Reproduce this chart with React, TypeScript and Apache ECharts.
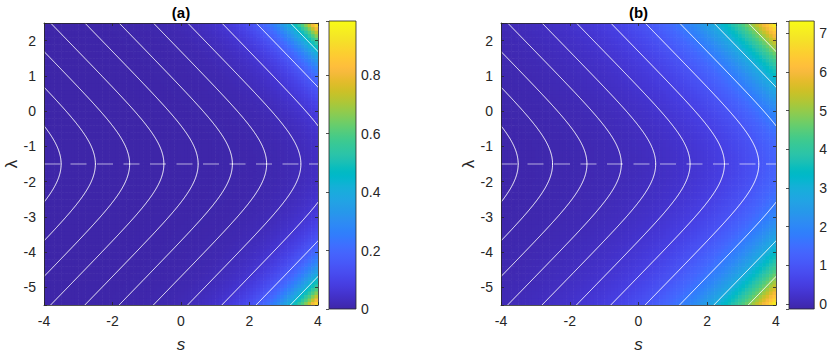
import React, { useEffect, useRef } from "react";
import * as echarts from "echarts";

// ---- axes / ticks ----
const S_RANGE = [-4, 4];
const LAMBDA_RANGE = [-5.5, 2.5];
const S_TICKS = [-4, -2, 0, 2, 4];
const LAMBDA_TICKS = [-5, -4, -3, -2, -1, 0, 1, 2];
const CB_A_TICKS = [0, 0.2, 0.4, 0.6, 0.8];
const CB_B_TICKS = [0, 1, 2, 3, 4, 5, 6, 7];
const CB_A_RANGE = [0, 0.986];
const CB_B_RANGE = [-0.13, 7.32];
const PANEL_TITLES = ["(a)", "(b)"];

// ---- field read-off ----
// dashed symmetry line
const DASH_LAMBDA = -1.5;
// white contours cross the dashed line at these s values (u-levels), and bend
// back as s = level - ln cosh(lambda + 1.5) away from it
const CONTOUR_LEVELS = [-3.5, -2.5, -1.5, -0.5, 0.5, 1.5, 2.5, 3.5, 4.5, 5.5, 6.5];
// value at the corner (s=4, lambda=2.5 / -5.5), growth per unit level, offset
const PEAK = [0.986, 7.45];
const RATE = [1.0, 0.5];
const OFFSET = [0, -0.13];

const PARULA = [
  "#3e26a8", "#402ab4", "#422ec0", "#4332cb", "#4537d5", "#463cde", "#4741e5", "#4747eb",
  "#484df0", "#4852f4", "#4758f8", "#465efb", "#4563fd", "#4269fe", "#3e6fff", "#3875fe",
  "#327cfc", "#2f81fa", "#2e87f7", "#2d8cf3", "#2b91ef", "#2797eb", "#259be8", "#23a0e5",
  "#20a5e3", "#1ca9df", "#18addb", "#12b1d6", "#08b5d0", "#01b8ca", "#02bac3", "#0bbdbd",
  "#19bfb6", "#24c1ae", "#2cc4a7", "#31c69f", "#37c897", "#3fca8e", "#4acb84", "#57cc7a",
  "#64cd6f", "#72cd64", "#81cc59", "#8fcb4e", "#9dc943", "#abc739", "#b9c431", "#c5c22a",
  "#d1bf27", "#dcbd29", "#e6bb2d", "#f0ba36", "#f8ba3d", "#febe3c", "#fec338", "#fec934",
  "#fccf30", "#fad62d", "#f7dc2a", "#f5e327", "#f5e924", "#f6ef20", "#f7f51b", "#f9fb15",
];

const DS = 0.1;
const DL = 0.1;

const level = (s: number, l: number) => s + Math.log(Math.cosh(l - DASH_LAMBDA));
const U_MAX = level(S_RANGE[1], LAMBDA_RANGE[1]);

function buildCells(k: number) {
  const out: number[][] = [];
  const ns = Math.round((S_RANGE[1] - S_RANGE[0]) / DS);
  const nl = Math.round((LAMBDA_RANGE[1] - LAMBDA_RANGE[0]) / DL);
  for (let i = 0; i < ns; i++) {
    const s = S_RANGE[0] + DS / 2 + i * DS;
    for (let j = 0; j < nl; j++) {
      const l = LAMBDA_RANGE[0] + DL / 2 + j * DL;
      const v = PEAK[k] * Math.exp(RATE[k] * (level(s, l) - U_MAX)) + OFFSET[k];
      out.push([s, l, v]);
    }
  }
  return out;
}

function buildContour(c: number) {
  const pts: number[][] = [];
  const n = 400;
  for (let j = 0; j <= n; j++) {
    const l = LAMBDA_RANGE[0] + ((LAMBDA_RANGE[1] - LAMBDA_RANGE[0]) * j) / n;
    pts.push([c - Math.log(Math.cosh(l - DASH_LAMBDA)), l]);
  }
  return pts;
}

const FONT = "'Liberation Sans', Arial, Helvetica, sans-serif";
const AX = "#262626";

const tickFmt = (ticks: number[]) => (v: number) => {
  const t = ticks.find((x) => Math.abs(x - v) < 1e-9);
  return t === undefined ? "" : String(t);
};

export default function App() {
  const ref = useRef<HTMLDivElement>(null);
  useEffect(() => {
    if (!ref.current) return;
    const chart = echarts.init(ref.current, undefined, { renderer: "svg" });

    const frameLine = { show: true, onZero: false, lineStyle: { color: AX, width: 0.8 } };
    const tick = { show: true, inside: true, length: 3, lineStyle: { color: AX, width: 0.8 } };
    const lbl = { color: AX, fontSize: 14, fontFamily: FONT };

    const plotLeft = [44, 501];
    const plotWidth = [274, 275];
    const cbLeft = [329, 789];
    const cbRanges = [CB_A_RANGE, CB_B_RANGE];
    const cbTicks = [CB_A_TICKS, CB_B_TICKS];

    const grid: any[] = [];
    const xAxis: any[] = [];
    const yAxis: any[] = [];
    const series: any[] = [];
    const visualMap: any[] = [];

    for (let k = 0; k < 2; k++) {
      const gPlot = grid.length;
      grid.push({ left: plotLeft[k], top: 21, width: plotWidth[k], height: 288 });
      const gCb = grid.length;
      grid.push({ left: cbLeft[k], top: 21, width: 27, height: 288 });

      const xb = xAxis.length;
      xAxis.push({
        gridIndex: gPlot, type: "value", min: S_RANGE[0], max: S_RANGE[1], interval: 2,
        position: "bottom", axisLine: frameLine, axisTick: tick, splitLine: { show: false },
        axisLabel: { ...lbl, margin: 9, formatter: tickFmt(S_TICKS) },
        name: "s", nameLocation: "middle", nameGap: 31,
        nameTextStyle: { color: AX, fontSize: 17, fontStyle: "italic", fontFamily: FONT },
        z: 5,
      });
      xAxis.push({
        gridIndex: gPlot, type: "value", min: S_RANGE[0], max: S_RANGE[1], interval: 2,
        position: "top", axisLine: frameLine, axisTick: tick, splitLine: { show: false },
        axisLabel: { show: false },
        name: PANEL_TITLES[k], nameLocation: "middle", nameGap: 3,
        nameTextStyle: { color: "#000", fontSize: 15, fontWeight: "bold", fontFamily: FONT },
        z: 5,
      });
      const yl = yAxis.length;
      yAxis.push({
        gridIndex: gPlot, type: "value", min: LAMBDA_RANGE[0], max: LAMBDA_RANGE[1],
        splitNumber: 8, minInterval: 1, maxInterval: 1,
        position: "left", axisLine: frameLine, axisTick: tick, splitLine: { show: false },
        axisLabel: { ...lbl, margin: 8, formatter: tickFmt(LAMBDA_TICKS) },
        name: "λ", nameLocation: "middle", nameGap: 24, nameRotate: 90,
        nameTextStyle: { color: AX, fontSize: 17, fontFamily: FONT },
        z: 5,
      });
      yAxis.push({
        gridIndex: gPlot, type: "value", min: LAMBDA_RANGE[0], max: LAMBDA_RANGE[1],
        splitNumber: 8, minInterval: 1, maxInterval: 1,
        position: "right", axisLine: frameLine, axisTick: tick, splitLine: { show: false },
        axisLabel: { show: false },
        z: 5,
      });
      const xc = xAxis.length;
      xAxis.push({ gridIndex: gCb, type: "value", min: 0, max: 1, show: false });
      const yc = yAxis.length;
      const r = cbRanges[k];
      yAxis.push({
        gridIndex: gCb, type: "value", min: r[0], max: r[1],
        ...(k === 0 ? { interval: 0.2 } : { splitNumber: 7, minInterval: 1, maxInterval: 1 }),
        position: "right", axisLine: { show: false }, axisTick: tick, splitLine: { show: false },
        axisLabel: { ...lbl, margin: 5, formatter: tickFmt(cbTicks[k]) },
        z: 5,
      });

      // heat field
      visualMap.push({
        show: false, seriesIndex: series.length, dimension: 2,
        min: r[0], max: r[1], inRange: { color: PARULA },
      });
      series.push({
        type: "custom", xAxisIndex: xb, yAxisIndex: yl, data: buildCells(k),
        dimensions: ["s", "lambda", "v"], encode: { x: 0, y: 1 },
        clip: true, silent: true, progressive: 0, z: 1,
        renderItem: (params: any, api: any) => {
          const p = api.coord([api.value(0) - DS / 2, api.value(1) + DL / 2]);
          const sz = api.size([DS, DL]);
          return {
            type: "rect",
            shape: { x: p[0], y: p[1], width: sz[0] + 0.6, height: sz[1] + 0.6 },
            style: { fill: api.visual("color") },
          };
        },
      });
      // contours
      CONTOUR_LEVELS.forEach((c) => {
        series.push({
          type: "line", xAxisIndex: xb, yAxisIndex: yl, data: buildContour(c),
          showSymbol: false, symbol: "none", clip: true, silent: true, z: 3,
          lineStyle: { color: "#ffffff", width: 1 },
        });
      });
      // dashed line
      series.push({
        type: "line", xAxisIndex: xb, yAxisIndex: yl,
        data: [[S_RANGE[0], DASH_LAMBDA], [S_RANGE[1], DASH_LAMBDA]],
        showSymbol: false, symbol: "none", clip: true, silent: true, z: 4,
        lineStyle: { color: "rgba(255,255,255,0.62)", width: 1.2, type: [16, 10.5] },
      });
      // colorbar
      const stops = PARULA.map((c, i) => ({ offset: i / (PARULA.length - 1), color: c }));
      series.push({
        type: "custom", xAxisIndex: xc, yAxisIndex: yc, data: [[0, r[0], r[1]]],
        encode: { x: 0, y: [1, 2] }, silent: true, z: 2,
        renderItem: (params: any, api: any) => {
          const top = api.coord([0, api.value(2)]);
          const bot = api.coord([0, api.value(1)]);
          const cs = params.coordSys;
          return {
            type: "rect",
            shape: { x: cs.x, y: top[1], width: cs.width, height: bot[1] - top[1] },
            style: {
              fill: new echarts.graphic.LinearGradient(0, 1, 0, 0, stops),
              stroke: AX, lineWidth: 0.8,
            },
          };
        },
      });
    }

    chart.setOption({
      animation: false,
      backgroundColor: "#ffffff",
      textStyle: { fontFamily: FONT },
      grid, xAxis, yAxis, visualMap, series,
    });
    return () => chart.dispose();
  }, []);

  return (
    <div
      ref={ref}
      style={{ position: "fixed", left: 0, top: 0, width: 830, height: 358 }}
    />
  );
}
